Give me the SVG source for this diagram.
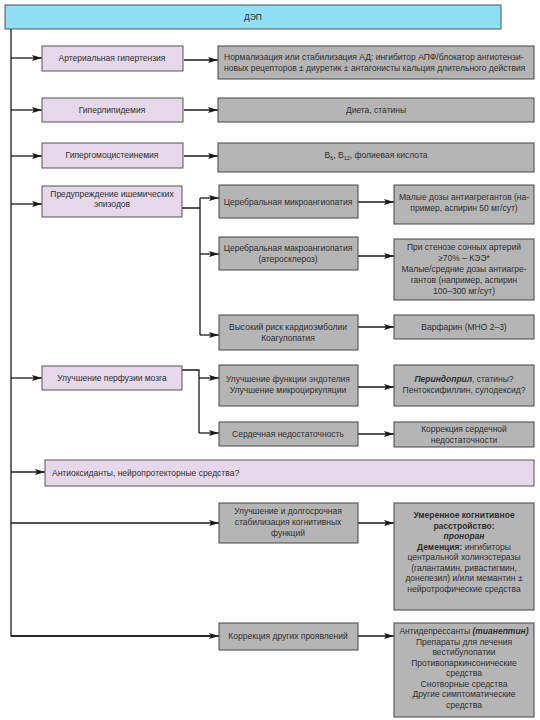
<svg xmlns="http://www.w3.org/2000/svg" width="540" height="720" viewBox="0 0 540 720">
<defs>
<marker id="ah" markerUnits="userSpaceOnUse" markerWidth="10" markerHeight="6" refX="10" refY="3" orient="auto">
<path d="M0,0 L10,3 L0,6 L2,3 z" fill="#1a1a1a"/>
</marker>
<style>
.top{fill:#8fdff5;stroke:#555;stroke-width:1}
.pur{fill:#e6d8ea;stroke:#555;stroke-width:1}
.gry{fill:#b5b5b5;stroke:#444;stroke-width:1}
text{font-family:"Liberation Sans",Arial,sans-serif;font-size:8.5px;fill:#2e2e2e}
.c{text-anchor:middle}
.b{font-weight:bold}
.bi{font-weight:bold;font-style:italic}
.ln{fill:none;stroke:#1a1a1a;stroke-width:1.3}
.ar{fill:none;stroke:#1a1a1a;stroke-width:1.3;marker-end:url(#ah)}
</style>
</defs>
<rect width="540" height="720" fill="#ffffff"/>

<g id="connectors">
<path class="ln" d="M11,29 V636 H210"/>
<path class="ar" d="M11,636 H219"/>
<path class="ar" d="M11,58 H42"/>
<path class="ar" d="M184,60 H218"/>
<path class="ar" d="M11,110 H42"/>
<path class="ar" d="M184,110 H218"/>
<path class="ar" d="M11,156 H42"/>
<path class="ar" d="M184,156 H218"/>
<path class="ar" d="M11,204 H42"/>
<path class="ln" d="M182,208 H200 M200,198 V335"/>
<path class="ar" d="M200,198 H219"/>
<path class="ar" d="M200,254 H219"/>
<path class="ar" d="M200,335 H219"/>
<path class="ar" d="M358,202 H394"/>
<path class="ar" d="M358,256 H394"/>
<path class="ar" d="M358,327 H394"/>
<path class="ar" d="M11,378 H42"/>
<path class="ln" d="M182,370 H199 V433"/>
<path class="ar" d="M199,378 H219"/>
<path class="ar" d="M199,433 H219"/>
<path class="ar" d="M358,387 H394"/>
<path class="ar" d="M358,434 H394"/>
<path class="ar" d="M11,472 H45"/>
<path class="ar" d="M11,523 H219"/>
<path class="ar" d="M358,523 H394"/>
<path class="ar" d="M358,636 H394"/>
</g>

<g id="n-dep">
<rect class="top" x="5" y="5" width="496" height="24"/>
<text class="c" x="253" y="20">ДЭП</text>
</g>

<g id="n-ag">
<rect class="pur" x="42" y="46" width="141" height="25"/>
<text class="c" x="112" y="61">Артериальная гипертензия</text>
</g>
<g id="n-ag-t">
<rect class="gry" x="218" y="46" width="316" height="33"/>
<text x="224" y="60">Нормализация или стабилизация АД: ингибитор АПФ/блокатор ангиотензи-</text>
<text x="224" y="71">новых рецепторов ± диуретик ± антагонисты кальция длительного действия</text>
</g>

<g id="n-gl">
<rect class="pur" x="42" y="98" width="141" height="24"/>
<text class="c" x="112" y="113">Гиперлипидемия</text>
</g>
<g id="n-gl-t">
<rect class="gry" x="218" y="98" width="316" height="24"/>
<text class="c" x="376" y="113">Диета, статины</text>
</g>

<g id="n-hc">
<rect class="pur" x="42" y="143" width="141" height="25"/>
<text class="c" x="112" y="158">Гипергомоцистеинемия</text>
</g>
<g id="n-hc-t">
<rect class="gry" x="218" y="143" width="316" height="29"/>
<text class="c" x="376" y="158">В<tspan font-size="5.5" dy="2">6</tspan><tspan dy="-2">, В</tspan><tspan font-size="5.5" dy="2">12</tspan><tspan dy="-2">, фолиевая кислота</tspan></text>
</g>

<g id="n-isch">
<rect class="pur" x="42" y="186" width="140" height="31"/>
<text class="c" x="112" y="197">Предупреждение ишемических</text>
<text class="c" x="112" y="207">эпизодов</text>
</g>
<g id="n-micro">
<rect class="gry" x="219" y="185" width="139" height="33"/>
<text class="c" x="288" y="205">Церебральная микроангиопатия</text>
</g>
<g id="n-micro-t">
<rect class="gry" x="394" y="185" width="140" height="39"/>
<text class="c" x="464" y="200">Малые дозы антиагрегантов (на-</text>
<text class="c" x="464" y="211">пример, аспирин 50 мг/сут)</text>
</g>
<g id="n-macro">
<rect class="gry" x="219" y="237" width="139" height="33"/>
<text class="c" x="288" y="251">Церебральная макроангиопатия</text>
<text class="c" x="288" y="262">(атеросклероз)</text>
</g>
<g id="n-macro-t">
<rect class="gry" x="394" y="239" width="140" height="61"/>
<text class="c" x="464" y="250">При стенозе сонных артерий</text>
<text class="c" x="464" y="261">≥70% – КЭЭ*</text>
<text class="c" x="464" y="272">Малые/средние дозы антиагре-</text>
<text class="c" x="464" y="283">гантов (например, аспирин</text>
<text class="c" x="464" y="294">100–300 мг/сут)</text>
</g>
<g id="n-card">
<rect class="gry" x="219" y="315" width="139" height="35"/>
<text class="c" x="288" y="330">Высокий риск кардиоэмболии</text>
<text class="c" x="288" y="341">Коагулопатия</text>
</g>
<g id="n-card-t">
<rect class="gry" x="394" y="315" width="140" height="24"/>
<text class="c" x="464" y="330">Варфарин (МНО 2–3)</text>
</g>

<g id="n-perf">
<rect class="pur" x="42" y="366" width="140" height="24"/>
<text class="c" x="112" y="381">Улучшение перфузии мозга</text>
</g>
<g id="n-endo">
<rect class="gry" x="219" y="365" width="139" height="41"/>
<text class="c" x="288" y="382">Улучшение функции эндотелия</text>
<text class="c" x="288" y="393">Улучшение микроциркуляции</text>
</g>
<g id="n-endo-t">
<rect class="gry" x="394" y="365" width="140" height="41"/>
<text class="c" x="464" y="382"><tspan class="bi">Периндоприл</tspan>, статины?</text>
<text class="c" x="464" y="393">Пентоксифиллин, сулодексид?</text>
</g>
<g id="n-heart">
<rect class="gry" x="219" y="422" width="139" height="24"/>
<text class="c" x="288" y="437">Сердечная недостаточность</text>
</g>
<g id="n-heart-t">
<rect class="gry" x="394" y="422" width="140" height="25"/>
<text class="c" x="464" y="432">Коррекция сердечной</text>
<text class="c" x="464" y="443">недостаточности</text>
</g>

<g id="n-antiox">
<rect class="pur" x="45" y="460" width="489" height="26"/>
<text x="52" y="476">Антиоксиданты, нейропротекторные средства?</text>
</g>

<g id="n-cogn">
<rect class="gry" x="219" y="503" width="139" height="40"/>
<text class="c" x="288" y="514">Улучшение и долгосрочная</text>
<text class="c" x="288" y="525">стабилизация когнитивных</text>
<text class="c" x="288" y="536">функций</text>
</g>
<g id="n-cogn-t">
<rect class="gry" x="394" y="503" width="140" height="107"/>
<text class="c b" x="464" y="518">Умеренное когнитивное</text>
<text class="c b" x="464" y="528.5">расстройство:</text>
<text class="c bi" x="464" y="539">проноран</text>
<text class="c" x="464" y="549.5"><tspan class="b">Деменция:</tspan> ингибиторы</text>
<text class="c" x="464" y="560">центральной холинэстеразы</text>
<text class="c" x="464" y="570.5">(галантамин, ривастигмин,</text>
<text class="c" x="464" y="581">донепезил) и/или мемантин ±</text>
<text class="c" x="464" y="591.5">нейротрофические средства</text>
</g>

<g id="n-other">
<rect class="gry" x="219" y="623" width="139" height="27"/>
<text class="c" x="288" y="639">Коррекция других проявлений</text>
</g>
<g id="n-other-t">
<rect class="gry" x="394" y="623" width="140" height="94"/>
<text class="c" x="464" y="634">Антидепрессанты <tspan class="bi">(тианептин)</tspan></text>
<text class="c" x="464" y="644.5">Препараты для лечения</text>
<text class="c" x="464" y="655">вестибулопатии</text>
<text class="c" x="464" y="665.5">Противопаркинсонические</text>
<text class="c" x="464" y="676">средства</text>
<text class="c" x="464" y="686.5">Снотворные средства</text>
<text class="c" x="464" y="697">Другие симптоматические</text>
<text class="c" x="464" y="707.5">средства</text>
</g>
</svg>
